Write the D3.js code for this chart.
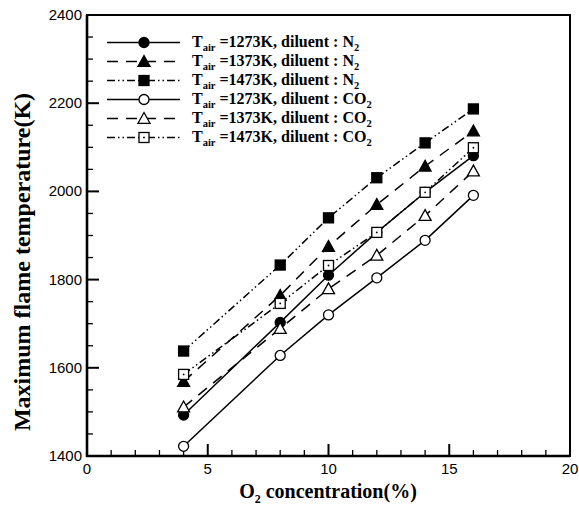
<!DOCTYPE html>
<html>
<head>
<meta charset="utf-8">
<script src="https://cdn.jsdelivr.net/npm/d3@7"></script>
<style>
  html, body { margin: 0; padding: 0; background: #fff; }
  svg { display: block; }
</style>
</head>
<body>
<svg id="chart" width="579" height="507"></svg>
<script>
// O2 concentration (%) at which the maximum flame temperature was computed
const o2 = [4, 8, 10, 12, 14, 16];

// Maximum flame temperature (K) for each air temperature / diluent case
const n2_1273 = [1493, 1703, 1810, 1907, 1998, 2081];
const n2_1373 = [1569, 1764, 1875, 1970, 2057, 2137];
const n2_1473 = [1638, 1833, 1940, 2031, 2110, 2187];
const co2_1273 = [1422, 1628, 1720, 1804, 1889, 1991];
const co2_1373 = [1511, 1689, 1779, 1855, 1945, 2046];
const co2_1473 = [1585, 1746, 1832, 1907, 1998, 2099];

const seriesTair = ["1273", "1373", "1473", "1273", "1373", "1473"];
const seriesDiluent = ["N", "N", "N", "CO", "CO", "CO"];
const seriesValues = [n2_1273, n2_1373, n2_1473, co2_1273, co2_1373, co2_1473];

const xTicks = [0, 5, 10, 15, 20];
const yTicks = [1400, 1600, 1800, 2000, 2200, 2400];

// line style and marker per series
const styles = [
  { dash: null, shape: "circle", filled: true },
  { dash: "11,8", shape: "triangle", filled: true },
  { dash: "8,3,1.5,3,1.5,3", shape: "square", filled: true },
  { dash: null, shape: "circle", filled: false },
  { dash: "11,8", shape: "triangle", filled: false },
  { dash: "8,3,1.5,3,1.5,3", shape: "square", filled: false }
];

const svg = d3.select("#chart");
const plot = { left: 87, right: 570, top: 15, bottom: 456 };

const x = d3.scaleLinear().domain([0, 20]).range([plot.left, plot.right]);
const y = d3.scaleLinear().domain([1400, 2400]).range([plot.bottom, plot.top]);

// frame
svg.append("rect")
  .attr("x", plot.left).attr("y", plot.top)
  .attr("width", plot.right - plot.left).attr("height", plot.bottom - plot.top)
  .attr("fill", "none").attr("stroke", "#000").attr("stroke-width", 2);

// minor ticks (inward)
const g = svg.append("g").attr("stroke", "#000").attr("stroke-width", 1.3);
d3.range(1, 20).filter(v => v % 5 !== 0).forEach(v => {
  g.append("line").attr("x1", x(v)).attr("x2", x(v))
    .attr("y1", plot.bottom).attr("y2", plot.bottom - 6);
});
d3.range(1450, 2400, 50).filter(v => v % 200 !== 0).forEach(v => {
  g.append("line").attr("x1", plot.left).attr("x2", plot.left + 6)
    .attr("y1", y(v)).attr("y2", y(v));
});
// major ticks
xTicks.slice(1, -1).forEach(v => {
  g.append("line").attr("x1", x(v)).attr("x2", x(v))
    .attr("y1", plot.bottom).attr("y2", plot.bottom - 12).attr("stroke-width", 2);
});
yTicks.slice(1, -1).forEach(v => {
  g.append("line").attr("x1", plot.left).attr("x2", plot.left + 12)
    .attr("y1", y(v)).attr("y2", y(v)).attr("stroke-width", 2);
});

// axis lines slightly heavier
svg.append("line").attr("x1", plot.left).attr("x2", plot.left)
  .attr("y1", plot.top).attr("y2", plot.bottom + 1).attr("stroke", "#000").attr("stroke-width", 2.6);
svg.append("line").attr("x1", plot.left - 1).attr("x2", plot.right)
  .attr("y1", plot.bottom).attr("y2", plot.bottom).attr("stroke", "#000").attr("stroke-width", 2.6);

// tick labels
const tickFont = "'Liberation Sans', Arial, sans-serif";
svg.append("g").selectAll("text").data(xTicks).join("text")
  .attr("x", d => x(d)).attr("y", 474)
  .attr("text-anchor", "middle")
  .attr("font-family", tickFont).attr("font-size", 15)
  .text(d => d);
svg.append("g").selectAll("text").data(yTicks).join("text")
  .attr("x", 82).attr("y", d => y(d) + 5)
  .attr("text-anchor", "end")
  .attr("font-family", tickFont).attr("font-size", 15)
  .text(d => d);

// axis titles
const titleFont = "'Liberation Serif', 'Times New Roman', serif";
const xt = svg.append("text")
  .attr("x", 328).attr("y", 498)
  .attr("text-anchor", "middle")
  .attr("font-family", titleFont).attr("font-weight", "bold").attr("font-size", 20);
xt.append("tspan").text("O");
xt.append("tspan").attr("font-size", 12).attr("dy", 5).text("2");
xt.append("tspan").attr("dy", -5).text(" concentration(%)");

svg.append("text")
  .attr("transform", "translate(30,262) rotate(-90)")
  .attr("text-anchor", "middle")
  .attr("font-family", titleFont).attr("font-weight", "bold").attr("font-size", 24)
  .text("Maximum flame temperature(K)");

// markers
function drawMarker(sel, shape, filled, cx, cy) {
  const fill = filled ? "#000" : "#fff";
  if (shape === "circle") {
    sel.append("circle").attr("cx", cx).attr("cy", cy).attr("r", 5)
      .attr("fill", fill).attr("stroke", "#000").attr("stroke-width", 1.3);
  } else if (shape === "square") {
    sel.append("rect").attr("x", cx - 5).attr("y", cy - 5).attr("width", 10).attr("height", 10)
      .attr("fill", fill).attr("stroke", "#000").attr("stroke-width", 1.3);
    if (!filled) {
      sel.append("circle").attr("cx", cx).attr("cy", cy).attr("r", 0.9).attr("fill", "#000");
    }
  } else {
    const s = 6;
    sel.append("path")
      .attr("d", `M${cx},${cy - s}L${cx + s},${cy + s * 0.8}L${cx - s},${cy + s * 0.8}Z`)
      .attr("fill", fill).attr("stroke", "#000").attr("stroke-width", 1.3)
      .attr("stroke-linejoin", "miter");
  }
}

const line = d3.line().x(d => x(d[0])).y(d => y(d[1]));
const dataLayer = svg.append("g");
seriesValues.forEach((vals, i) => {
  const pts = o2.map((v, j) => [v, vals[j]]);
  dataLayer.append("path").datum(pts)
    .attr("d", line)
    .attr("fill", "none").attr("stroke", "#000").attr("stroke-width", 1.5)
    .attr("stroke-dasharray", styles[i].dash);
});
seriesValues.forEach((vals, i) => {
  o2.forEach((v, j) => drawMarker(dataLayer, styles[i].shape, styles[i].filled, x(v), y(vals[j])));
});

// legend
const legend = svg.append("g");
seriesValues.forEach((vals, i) => {
  const ly = 42.5 + i * 19;
  legend.append("line").attr("x1", 107).attr("x2", 180).attr("y1", ly).attr("y2", ly)
    .attr("stroke", "#000").attr("stroke-width", 1.5)
    .attr("stroke-dasharray", styles[i].dash);
  drawMarker(legend, styles[i].shape, styles[i].filled, 144, ly);
  const t = legend.append("text")
    .attr("x", 192).attr("y", ly + 4)
    .attr("font-family", titleFont).attr("font-weight", "bold").attr("font-size", 16);
  t.append("tspan").text("T");
  t.append("tspan").attr("font-size", 10.5).attr("dy", 4).text("air");
  t.append("tspan").attr("dy", -4).text(" =" + seriesTair[i] + "K, diluent : " + seriesDiluent[i]);
  t.append("tspan").attr("font-size", 10.5).attr("dy", 4).text("2");
});
</script>
</body>
</html>
